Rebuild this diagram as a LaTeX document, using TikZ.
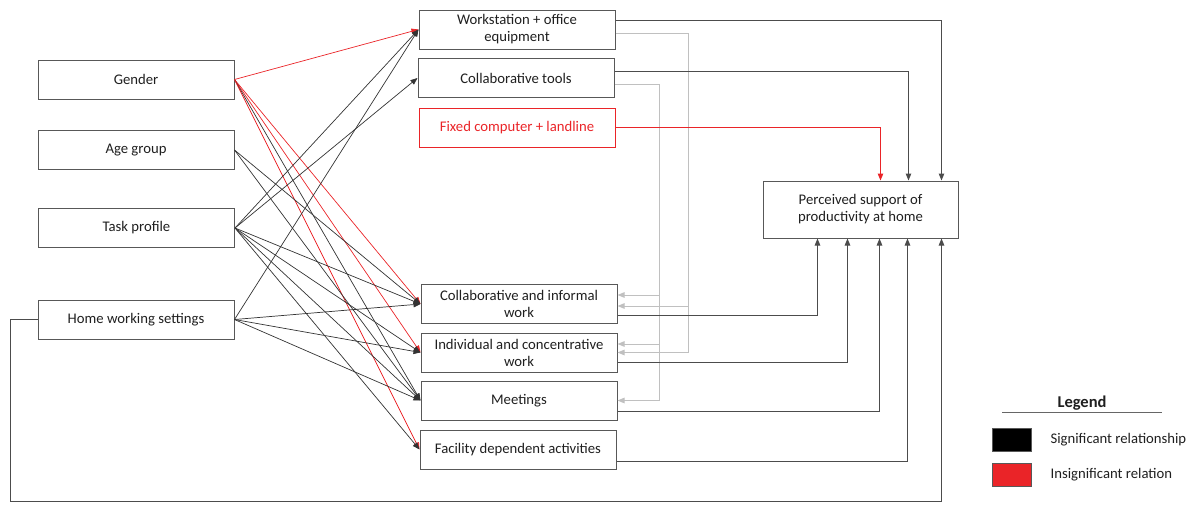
\documentclass[tikz,border=0pt]{standalone}
\usepackage{fontspec}
\setmainfont{Carlito}
\usepackage{tikz}
\usetikzlibrary{positioning, calc, arrows.meta}

\definecolor{sigred}{RGB}{234,36,40}
\definecolor{boxgray}{RGB}{88,88,88}
\definecolor{palegray}{RGB}{192,192,192}

\begin{document}
\begin{tikzpicture}[
  x=1pt, y=-1pt,
  font=\fontsize{14.7}{17}\selectfont,
  var/.style={
    draw=boxgray,
    line width=1pt,
    minimum width=196pt,
    minimum height=39pt,
    inner sep=2pt,
    align=center,
    text=black!88,
  },
  tip/.style={-{Triangle[length=7pt,width=5.5pt]}},
  link/.style={tip, draw=black!80, line width=0.7pt},
  redlink/.style={tip, draw=sigred, line width=0.7pt},
  outlink/.style={tip, draw=black!70, line width=1pt},
  palelink/.style={draw=palegray, line width=1pt},
  swatch/.style={draw=boxgray, line width=0.8pt, minimum width=39pt, minimum height=23pt, inner sep=0pt},
  legtext/.style={inner sep=0pt, anchor=west, text=black!88},
]
\useasboundingbox (0,0) rectangle (1195,504);

% --- Background variables ---
\node[var] (gender) at (136,79.5)  {Gender};
\node[var] (age)    at (136,150)   {Age group};
\node[var] (task)   at (136.5,228) {Task profile};
\node[var] (home)   at (136,319.5) {Home working settings};

% --- Facilities ---
\node[var] (ws) at (517,29.5)  {Workstation + office\\equipment};
\node[var] (ct) at (516,78)    {Collaborative tools};
\node[var, draw=sigred, text=sigred] (fc) at (517,127.5) {Fixed computer + landline};

% --- Activities ---
\node[var] (ci) at (519,304)   {Collaborative and informal\\work};
\node[var] (ic) at (519,352.5) {Individual and concentrative\\work};
\node[var] (mt) at (519,400.5) {Meetings};
\node[var] (fd) at (518,449.5) {Facility dependent activities};

% --- Outcome ---
\node[var, minimum width=195pt, minimum height=57pt] (ps) at (860.5,209.5)
  {Perceived support of\\productivity at home};

% Gender: only the link to meetings is significant
\draw[redlink] (gender.east) -- (ws.west);
\draw[redlink] (gender.east) -- (ci.west);
\draw[redlink] (gender.east) -- (ic.west);
\draw[link]    (gender.east) -- (mt.west);
\draw[redlink] (gender.east) -- (fd.west);

% Age group
\draw[link] (age.east) -- (ci.west);
\draw[link] (age.east) -- (mt.west);

% Task profile
\draw[link] (task.east) -- (ws.west);
\draw[link] (task.east) -- (ct.west);
\draw[link] (task.east) -- (ci.west);
\draw[link] (task.east) -- (ic.west);
\draw[link] (task.east) -- (mt.west);
\draw[link] (task.east) -- (fd.west);

% Home working settings
\draw[link] (home.east) -- (ws.west);
\draw[link] (home.east) -- (ci.west);
\draw[link] (home.east) -- (ic.west);
\draw[link] (home.east) -- (mt.west);

% Facilities feed back into the activities (pale buses)
\coordinate (wsBus) at (688,0);
\coordinate (ctBus) at (659,0);
\draw[palelink] ($(ws.east)+(0,3.5)$) -| (wsBus |- ic.east);
\draw[palelink, tip] ($(wsBus |- ci.east)+(0,2)$) -- ($(ci.east)+(0,2)$);
\draw[palelink, tip] (wsBus |- ic.east) -- (ic.east);
\draw[palelink] ($(ct.east)+(0,6)$) -| (ctBus |- mt.east);
\draw[palelink, tip] ($(ctBus |- ci.east)+(0,-9)$) -- ($(ci.east)+(0,-9)$);
\draw[palelink, tip] ($(ctBus |- ic.east)+(0,-8.5)$) -- ($(ic.east)+(0,-8.5)$);
\draw[palelink, tip] (ctBus |- mt.east) -- (mt.east);

% Facilities -> outcome (top side)
\draw[outlink] ($(ws.east)+(0,-9.5)$) -| ($(ps.north east)+(-17,0)$);
\draw[outlink] ($(ct.east)+(0,-7)$) -| ($(ps.north east)+(-50,0)$);
\draw[outlink, draw=sigred] (fc.east) -| ($(ps.north east)+(-78,0)$);

% Activities -> outcome (bottom side)
\draw[outlink] ($(ci.east)+(0,11)$) -| ($(ps.south west)+(55,0)$);
\draw[outlink] ($(ic.east)+(0,10)$) -| ($(ps.south west)+(85,0)$);
\draw[outlink] ($(mt.east)+(0,11)$) -| ($(ps.south west)+(117,0)$);
\draw[outlink] ($(fd.east)+(0,11.5)$) -| ($(ps.south west)+(145,0)$);

% Home working settings -> outcome, round the bottom
\coordinate (loopCorner) at (10,501);
\draw[outlink] (home.west) -| (loopCorner) -| ($(ps.south east)+(-17,0)$);

% --- Legend ---
\node[font=\fontsize{16.5}{19}\selectfont\bfseries, text=black!88] (legtitle) at (1082,403) {Legend};
\draw[draw=black!60, line width=1pt] (1002,412) -- (1162,412);
\node[swatch, fill=black] (sigbox) at (1011.5,439.5) {};
\node[swatch, fill=sigred] (insbox) at (1011.5,474.5) {};
\node[legtext, right=19pt of sigbox] (sigtext) {Significant relationship};
\node[legtext, right=19pt of insbox] (instext) {Insignificant relation};
\end{tikzpicture}
\end{document}
